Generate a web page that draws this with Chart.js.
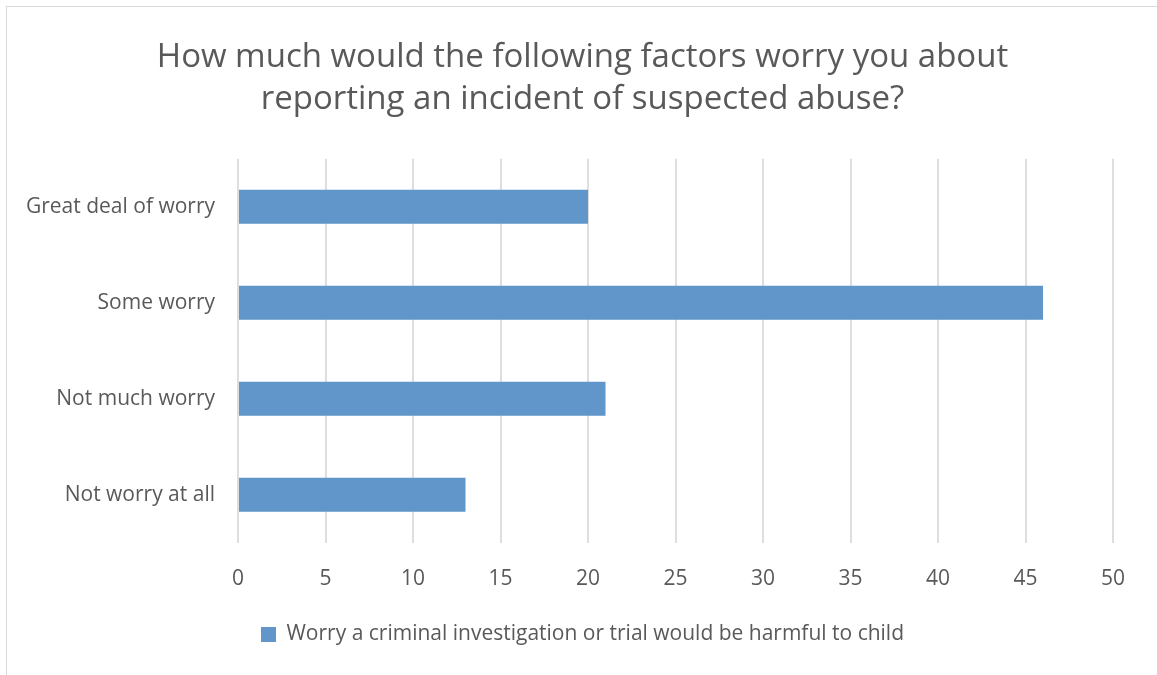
<!DOCTYPE html>
<html>
<head>
<meta charset="utf-8">
<script src="https://cdn.jsdelivr.net/npm/chart.js"></script>
<style>
    body { margin: 0; background: #fff; overflow: hidden; }
    #frame { position: absolute; left: 6px; top: 6px; width: 1200px; height: 700px; border: 1px solid #d9d9d9; }
    #myChart { position: absolute; left: 0; top: 0; }
</style>
</head>
<body>
<div id="frame"></div>
<canvas id="myChart" width="1157" height="675"></canvas>
<script>
    const categories = ['Great deal of worry', 'Some worry', 'Not much worry', 'Not worry at all'];
    const worryValues = [20, 46, 21, 13];
    const seriesName = 'Worry a criminal investigation or trial would be harmful to child';
    const titleLines = ['How much would the following factors worry you about', 'reporting an incident of suspected abuse?'];
    const axisMin = 0, axisMax = 50, axisStep = 5;

    const textColor = '#595959';
    const fontFamily = '"Open Sans", "Noto Sans", sans-serif';

    function chart(){
        const ctx = document.getElementById('myChart');
        new Chart(ctx, {
            type: 'bar',
            data: {
                labels: categories,
                datasets: [{
                    label: seriesName,
                    data: worryValues,
                    backgroundColor: '#6096c9',
                    borderWidth: 0,
                    barPercentage: 0.354,
                    categoryPercentage: 1
                }]
            },
            options: {
                indexAxis: 'y',
                responsive: false,
                animation: false,
                layout: {
                    padding: { left: 8, right: 0, top: 0, bottom: 20 }
                },
                scales: {
                    x: {
                        min: axisMin,
                        max: axisMax,
                        ticks: { stepSize: axisStep, color: textColor, font: { family: fontFamily, size: 21 }, padding: 24 },
                        grid: { color: '#dedede', lineWidth: 2, drawTicks: false },
                        border: { display: false },
                        afterFit: function(scale){ scale.height = scale.height - 3; }
                    },
                    y: {
                        ticks: { color: textColor, font: { family: fontFamily, size: 21 }, padding: 23 },
                        grid: { display: false, drawTicks: false },
                        border: { display: false },
                        afterFit: function(scale){ scale.width = 230; }
                    },
                    // empty right-hand axis, only keeps space on the right of the plot
                    yRight: {
                        axis: 'y',
                        position: 'right',
                        ticks: { display: false },
                        grid: { display: false, drawTicks: false },
                        border: { display: false },
                        afterFit: function(scale){ scale.width = 44; }
                    }
                },
                plugins: {
                    title: {
                        display: true,
                        text: titleLines,
                        color: textColor,
                        font: { family: fontFamily, size: 33, weight: 'normal', lineHeight: 1.27 },
                        padding: { top: 37, bottom: 38 }
                    },
                    legend: {
                        position: 'bottom',
                        labels: {
                            color: textColor,
                            font: { family: fontFamily, size: 21 },
                            boxWidth: 15,
                            boxHeight: 15,
                            padding: 11
                        }
                    },
                    tooltip: { enabled: false }
                }
            }
        });
    }

    chart();
</script>
</body>
</html>
